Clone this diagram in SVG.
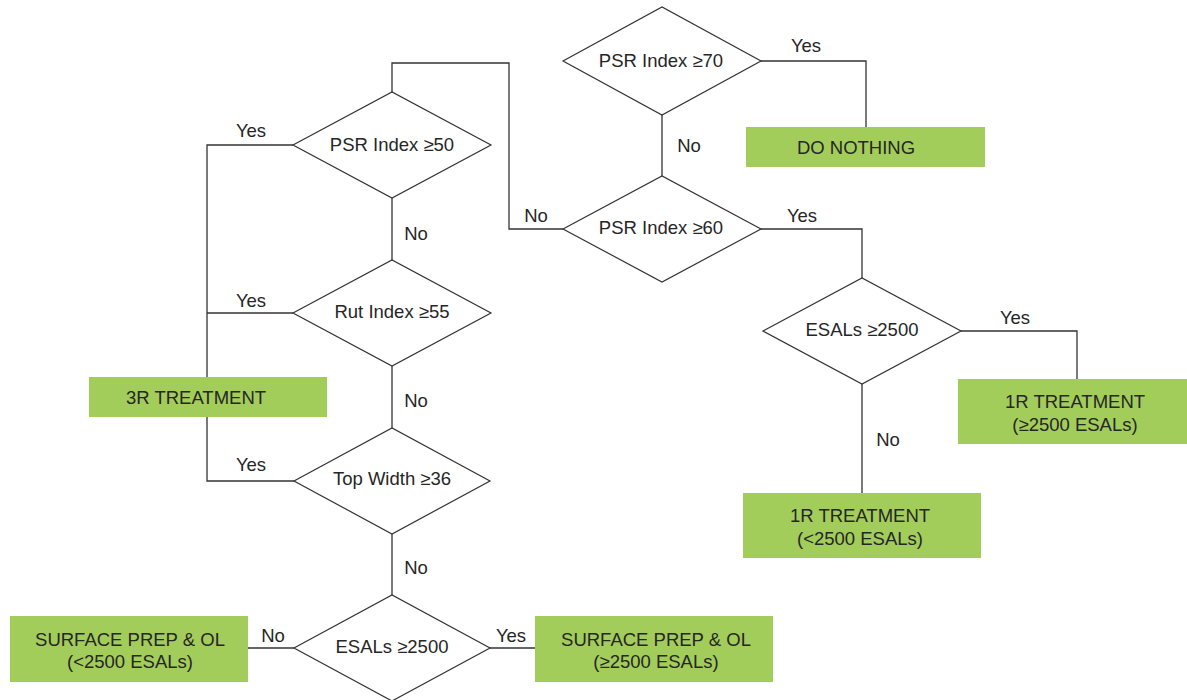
<svg xmlns="http://www.w3.org/2000/svg" width="1187" height="700" viewBox="0 0 1187 700">
  <style>
    .bg { fill: #ffffff; }
    .link { fill: none; stroke: #333333; stroke-width: 1.3; }
    .decision { fill: #ffffff; stroke: #333333; stroke-width: 1.2; }
    .action { fill: #a3cd5a; stroke: none; }
    text { font-family: "Liberation Sans", Arial, sans-serif; font-size: 18.5px; fill: #262626; text-anchor: middle; }
  </style>
  <rect class="bg" x="0" y="0" width="1187" height="700"/>

  <!-- connectors -->
  <g id="connectors">
    <path class="link" d="M761,61 H866 V127"/>
    <path class="link" d="M662,115 V176"/>
    <path class="link" d="M761,229 H862 V278"/>
    <path class="link" d="M563,229 H509 V63 H392 V92"/>
    <path class="link" d="M293,145 H207 V481 H294"/>
    <path class="link" d="M293,313 H207"/>
    <path class="link" d="M392,198 V260"/>
    <path class="link" d="M392,366 V428"/>
    <path class="link" d="M392,534 V595"/>
    <path class="link" d="M294,648 H248"/>
    <path class="link" d="M490,648 H535"/>
    <path class="link" d="M961,331 H1077 V379"/>
    <path class="link" d="M862,384 V493"/>
    <text x="806" y="52">Yes</text>
    <text x="689" y="152">No</text>
    <text x="802" y="222">Yes</text>
    <text x="536" y="222">No</text>
    <text x="251" y="137">Yes</text>
    <text x="416" y="240">No</text>
    <text x="251" y="307">Yes</text>
    <text x="416" y="407">No</text>
    <text x="251" y="471">Yes</text>
    <text x="416" y="574">No</text>
    <text x="273" y="642">No</text>
    <text x="511" y="642">Yes</text>
    <text x="1015" y="324">Yes</text>
    <text x="888" y="446">No</text>
  </g>

  <!-- decisions -->
  <g id="psr70">
    <polygon class="decision" points="563,61 662,7 761,61 662,115"/>
    <text x="661" y="67">PSR Index ≥70</text>
  </g>
  <g id="psr60">
    <polygon class="decision" points="563,229 662,176 761,229 662,282"/>
    <text x="661" y="234">PSR Index ≥60</text>
  </g>
  <g id="psr50">
    <polygon class="decision" points="293,145 392,92 491,145 392,198"/>
    <text x="392" y="151">PSR Index ≥50</text>
  </g>
  <g id="rut55">
    <polygon class="decision" points="293,313 392,260 491,313 392,366"/>
    <text x="392" y="318">Rut Index ≥55</text>
  </g>
  <g id="topwidth36">
    <polygon class="decision" points="294,481 392,428 490,481 392,534"/>
    <text x="392" y="485">Top Width ≥36</text>
  </g>
  <g id="esals-left">
    <polygon class="decision" points="294,648 392,595 490,648 392,701"/>
    <text x="392" y="653">ESALs ≥2500</text>
  </g>
  <g id="esals-right">
    <polygon class="decision" points="763,331 862,278 961,331 862,384"/>
    <text x="862" y="336">ESALs ≥2500</text>
  </g>

  <!-- actions -->
  <g id="do-nothing">
    <rect class="action" x="746" y="127" width="239" height="40"/>
    <text x="856" y="154">DO NOTHING</text>
  </g>
  <g id="treatment-3r">
    <rect class="action" x="89" y="377" width="238" height="40"/>
    <text x="196" y="404">3R TREATMENT</text>
  </g>
  <g id="treatment-1r-high">
    <rect class="action" x="958" y="379" width="229" height="65"/>
    <text x="1075" y="408">1R TREATMENT</text>
    <text x="1075" y="431">(≥2500 ESALs)</text>
  </g>
  <g id="treatment-1r-low">
    <rect class="action" x="743" y="493" width="238" height="65"/>
    <text x="860" y="522">1R TREATMENT</text>
    <text x="860" y="545">(&lt;2500 ESALs)</text>
  </g>
  <g id="overlay-low">
    <rect class="action" x="10" y="616" width="238" height="66"/>
    <text x="130" y="646">SURFACE PREP &amp; OL</text>
    <text x="130" y="668">(&lt;2500 ESALs)</text>
  </g>
  <g id="overlay-high">
    <rect class="action" x="535" y="616" width="238" height="66"/>
    <text x="656" y="646">SURFACE PREP &amp; OL</text>
    <text x="656" y="668">(≥2500 ESALs)</text>
  </g>
</svg>
